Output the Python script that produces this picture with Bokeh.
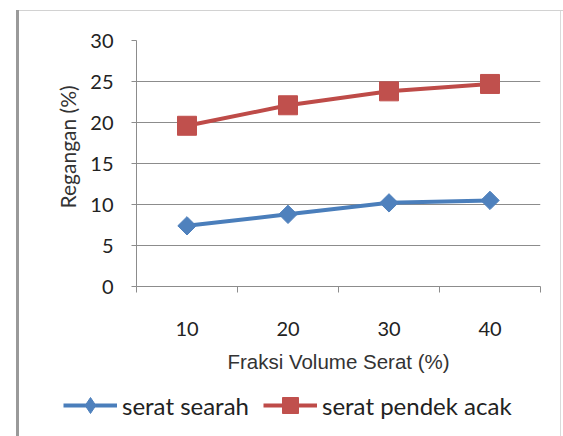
from bokeh.plotting import figure
from bokeh.models import FixedTicker, Legend, LegendItem, Range1d, Title
from bokeh.embed import file_html
from bokeh.resources import INLINE
import math

fraksi = [10, 20, 30, 40]
searah = [7.4, 8.8, 10.2, 10.5]
pendek_acak = [19.6, 22.1, 23.8, 24.7]
y_ticks = [0, 5, 10, 15, 20, 25, 30]
x_label = "Fraksi Volume Serat (%)"
y_label = "Regangan (%)"
series_names = ["serat searah", "serat pendek acak"]

BLUE_LINE = "#4A7EBB"
BLUE_MARK = "#4F81BD"
RED_LINE = "#BE4B48"
RED_MARK = "#C0504D"
GRID = "#8c8c8c"
TEXT = "#222222"
W = 563

p = figure(width=W, height=380, output_backend="svg", toolbar_location=None,
           x_range=Range1d(5, 45), y_range=Range1d(0, 30),
           min_border_left=136, min_border_right=23, min_border_top=40,
           min_border_bottom=94)
# outer chart frame drawn as a CSS background behind the transparent canvas border
p.styles = {
    "background-color": "white",
    "background-image": "linear-gradient(#9a9a9a,#9a9a9a), linear-gradient(#d2d2d2,#d2d2d2), linear-gradient(#dadada,#dadada)",
    "background-size": "3px 100%, 100% 1px, 1px 100%",
    "background-position": "16px 10px, 16px 10px, 560px 10px",
    "background-repeat": "no-repeat",
}
p.outline_line_color = None
p.background_fill_color = "white"
p.border_fill_alpha = 0

# axes
p.xaxis.ticker = FixedTicker(ticks=fraksi, minor_ticks=[5, 15, 25, 35, 45])
p.xaxis.major_tick_line_color = None
p.xaxis.minor_tick_out = 6
p.xaxis.minor_tick_in = 0
p.xaxis.minor_tick_line_color = GRID
p.xaxis.axis_line_color = GRID
p.xaxis.major_label_standoff = 29
p.xaxis.major_label_text_font = "Lato"
p.xaxis.major_label_text_font_size = "20px"
p.xaxis.major_label_text_color = TEXT
p.xaxis.axis_label = x_label
p.xaxis.axis_label_text_font = "Liberation Sans"
p.xaxis.axis_label_text_font_size = "20.5px"
p.xaxis.axis_label_text_font_style = "normal"
p.xaxis.axis_label_text_color = "#333333"
p.xaxis.axis_label_standoff = 11

p.yaxis.ticker = FixedTicker(ticks=y_ticks, minor_ticks=[])
p.yaxis.major_tick_out = 5
p.yaxis.major_tick_in = 0
p.yaxis.major_tick_line_color = GRID
p.yaxis.axis_line_color = GRID
p.yaxis.major_label_standoff = 18
p.yaxis.major_label_text_font = "Lato"
p.yaxis.major_label_text_font_size = "20px"
p.yaxis.major_label_text_color = TEXT

# y-axis title, placed a little above the frame centre as in the original
ytitle = Title(text=y_label, align="left", offset=78, standoff=16,
               text_font="Lato", text_font_size="21px", text_font_style="normal",
               text_color="#333333")
p.add_layout(ytitle, "left")

p.xgrid.grid_line_color = None
p.ygrid.grid_line_color = GRID
p.ygrid.grid_line_width = 1

# series
p.line(fraksi, searah, line_color=BLUE_LINE, line_width=4)
p.scatter(fraksi, searah, marker="square", angle=math.pi / 4, size=13,
          fill_color=BLUE_MARK, line_color=BLUE_MARK)
p.line(fraksi, pendek_acak, line_color=RED_LINE, line_width=4)
p.scatter(fraksi, pendek_acak, marker="square", size=19,
          fill_color=RED_MARK, line_color=RED_MARK)

# legend strip: second root directly below, same outer frame
lg = figure(width=W, height=56, output_backend="svg", toolbar_location=None,
            x_axis_type=None, y_axis_type=None,
            x_range=Range1d(0, 1), y_range=Range1d(0, 1), min_border=0)
lg.styles = {
    "background-color": "white",
    "background-image": "linear-gradient(#9a9a9a,#9a9a9a), linear-gradient(#dadada,#dadada)",
    "background-size": "3px 100%, 1px 100%",
    "background-position": "16px 0px, 560px 0px",
    "background-repeat": "no-repeat",
}
lg.outline_line_color = None
lg.background_fill_alpha = 0
lg.border_fill_alpha = 0
lg.xgrid.grid_line_color = None
lg.ygrid.grid_line_color = None
# same series drawn in the strip (outside its visible range) so the key has its glyphs
k1 = lg.line(fraksi, searah, line_color=BLUE_LINE, line_width=4)
k1m = lg.scatter(fraksi, searah, marker="diamond", size=13,
                 fill_color=BLUE_MARK, line_color=BLUE_MARK)
k2 = lg.line(fraksi, pendek_acak, line_color=RED_LINE, line_width=4)
k2m = lg.scatter(fraksi, pendek_acak, marker="square", size=19,
                 fill_color=RED_MARK, line_color=RED_MARK)
legend = Legend(items=[LegendItem(label=series_names[0], renderers=[k1, k1m]),
                       LegendItem(label=series_names[1], renderers=[k2, k2m])],
                orientation="horizontal", location=(63, 11),
                glyph_width=54, glyph_height=40, label_standoff=5, spacing=14,
                padding=0, margin=0, border_line_color=None,
                background_fill_alpha=0,
                label_text_font="Lato", label_text_font_size="24px",
                label_text_color=TEXT)
lg.add_layout(legend, "center")

open("out.html", "w").write(file_html([p, lg], INLINE))
